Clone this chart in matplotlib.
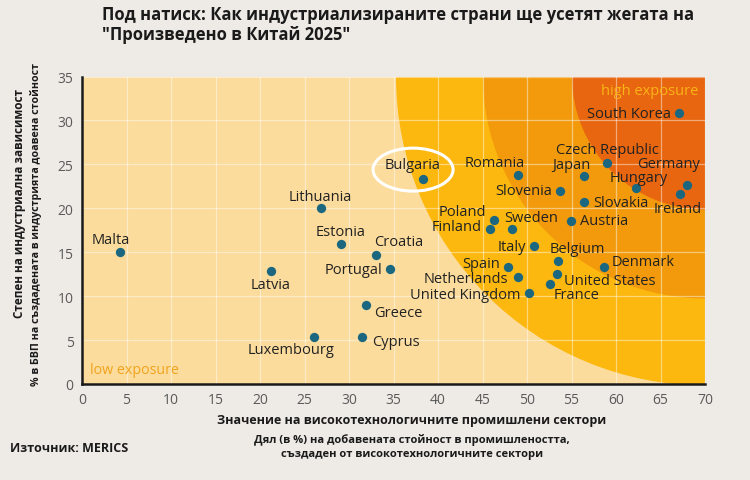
import matplotlib.pyplot as plt
from matplotlib.patches import Ellipse

# data
countries = ['Malta', 'Latvia', 'Lithuania', 'Estonia', 'Croatia', 'Portugal',
             'Greece', 'Cyprus', 'Luxembourg', 'Bulgaria', 'Romania',
             'Czech Republic', 'Japan', 'Germany', 'Hungary', 'Slovenia',
             'Slovakia', 'Ireland', 'South Korea', 'Austria', 'Poland',
             'Finland', 'Sweden', 'Italy', 'Belgium', 'Spain', 'Netherlands',
             'United Kingdom', 'United States', 'France', 'Denmark']
hightech_share = [4.3, 21.2, 26.8, 29.1, 33.0, 34.6, 31.9, 31.5, 26.1, 38.3,
                  49.0, 59.0, 56.4, 68.0, 62.2, 53.7, 56.4, 67.2, 67.1, 54.9,
                  46.3, 45.8, 48.3, 50.8, 53.5, 47.9, 49.0, 50.2, 53.4, 52.6,
                  58.7]
industry_share = [15.0, 12.9, 20.0, 15.9, 14.7, 13.1, 9.0, 5.4, 5.3, 23.3,
                  23.8, 25.1, 23.7, 22.6, 22.3, 22.0, 20.7, 21.6, 30.8, 18.6,
                  18.7, 17.6, 17.6, 15.7, 14.0, 13.3, 12.2, 10.4, 12.5, 11.4,
                  13.3]

title = 'Под натиск: Как индустриализираните страни ще усетят жегата на\n"Произведено в Китай 2025"'
xlabel_main = 'Значение на високотехнологичните промишлени сектори'
xlabel_sub = 'Дял (в %) на добавената стойност в промишлеността,\nсъздаден от високотехнологичните сектори'
ylabel_main = 'Степен на индустриална зависимост'
ylabel_sub = '% в БВП на създадената в индустрията доавена стойност'
source = 'Източник: MERICS'

# label placement: (dx px, dy px, horizontal alignment)
label_pos = {
    'Malta': (-9, 13, 'center'), 'Latvia': (0, -14, 'center'),
    'Lithuania': (0, 12, 'center'), 'Estonia': (0, 13, 'center'),
    'Croatia': (-2, 13, 'left'), 'Portugal': (-8, -1, 'right'),
    'Greece': (8, -8, 'left'), 'Cyprus': (10, -5, 'left'),
    'Luxembourg': (-23, -12, 'center'), 'Bulgaria': (-10, 15, 'center'),
    'Romania': (-23, 12, 'center'), 'Czech Republic': (0, 14, 'center'),
    'Japan': (-13, 11, 'center'), 'Germany': (13, 22, 'right'),
    'Hungary': (3, 11, 'center'), 'Slovenia': (-8, 0, 'right'),
    'Slovakia': (9, 0, 'left'), 'Ireland': (-2, -14, 'center'),
    'South Korea': (-8, 0, 'right'), 'Austria': (9, 0, 'left'),
    'Poland': (-8, 8, 'right'), 'Finland': (-8, 3, 'right'),
    'Sweden': (-8, 12, 'left'), 'Italy': (-8, 0, 'right'),
    'Belgium': (19, 12, 'center'), 'Spain': (-8, 4, 'right'),
    'Netherlands': (-10, -2, 'right'), 'United Kingdom': (-8, -2, 'right'),
    'United States': (7, -6, 'left'), 'France': (3, -11, 'left'),
    'Denmark': (7, 6, 'left'),
}

BG = '#EEEBE6'
PALE = '#FCDC9C'
BANDS = [(309, '#FCB80E'), (222, '#F29A0C'), (133, '#E8660F')]
DOT = '#1C6780'
SANS = 'Open Sans'

fig = plt.figure(figsize=(7.5, 4.81), dpi=100, facecolor=BG)
ax = fig.add_axes([82 / 750, 1 - 385 / 481, 623 / 750, 307.5 / 481])
ax.set_facecolor(PALE)
ax.set_xlim(0, 70)
ax.set_ylim(0, 35)

# exposure bands: circles (in pixels) centred on the top-right corner
px_x = 623 / 70
px_y = 307.5 / 35
for i, (r, c) in enumerate(BANDS):
    ax.add_patch(Ellipse((70, 35), 2 * r / px_x, 2 * r / px_y,
                         facecolor=c, edgecolor='none', zorder=0.1 + i * 0.1))

ax.set_axisbelow(True)
ax.set_xticks(range(0, 71, 5))
ax.set_yticks(range(0, 36, 5))
ax.grid(True, color='white', alpha=0.45, lw=0.9)
ax.tick_params(length=0, labelsize=10, labelcolor='#5a5a5a', pad=6)
for lab in ax.get_xticklabels() + ax.get_yticklabels():
    lab.set_family(SANS)
for s in ['top', 'right']:
    ax.spines[s].set_visible(False)
for s in ['left', 'bottom']:
    ax.spines[s].set_linewidth(1.8)
    ax.spines[s].set_color('#1a1a1a')

ax.scatter(hightech_share, industry_share, s=45, color=DOT, zorder=5,
           linewidths=0)

for name, xv, yv in zip(countries, hightech_share, industry_share):
    dx, dy, ha = label_pos[name]
    ax.annotate(name, (xv, yv), xytext=(dx, dy), textcoords='offset pixels',
                ha=ha, va='center', fontsize=10.5, color='#222222',
                family=SANS, zorder=6)

# highlight ring around Bulgaria
ax.add_patch(Ellipse((37.2, 24.4), 80 / px_x, 43 / px_y, facecolor='none',
                     edgecolor='white', lw=2.2, zorder=4))

ax.text(0.9, 1.6, 'low exposure', fontsize=10.3, color='#F0A41E',
        family=SANS, ha='left', va='center')
ax.text(69.3, 33.4, 'high exposure', fontsize=10.5, color='#F9B418',
        family=SANS, ha='right', va='center')

fig.text(102 / 750, 1 - 25 / 481, title, fontsize=12, fontweight='bold',
         family=SANS, color='#1a1a1a', ha='left', va='center',
         linespacing=1.1)
fig.text(412 / 750, 1 - 421 / 481, xlabel_main, fontsize=9, fontweight='bold',
         family=SANS, color='#1a1a1a', ha='center', va='center')
fig.text(412 / 750, 1 - 447 / 481, xlabel_sub, fontsize=8, fontweight='bold',
         family=SANS, color='#1a1a1a', ha='center', va='center',
         linespacing=1.45)
fig.text(20 / 750, 1 - 204 / 481, ylabel_main, fontsize=8.5, fontweight='bold',
         family=SANS, color='#1a1a1a', ha='center', va='center',
         rotation=90)
fig.text(36 / 750, 1 - 225 / 481, ylabel_sub, fontsize=7.7, fontweight='bold',
         family=SANS, color='#1a1a1a', ha='center', va='center',
         rotation=90)
fig.text(10 / 750, 1 - 449 / 481, source, fontsize=9, fontweight='bold',
         family=SANS, color='#1a1a1a', ha='left', va='center')

fig.savefig('out.png', dpi=100, facecolor=BG)
